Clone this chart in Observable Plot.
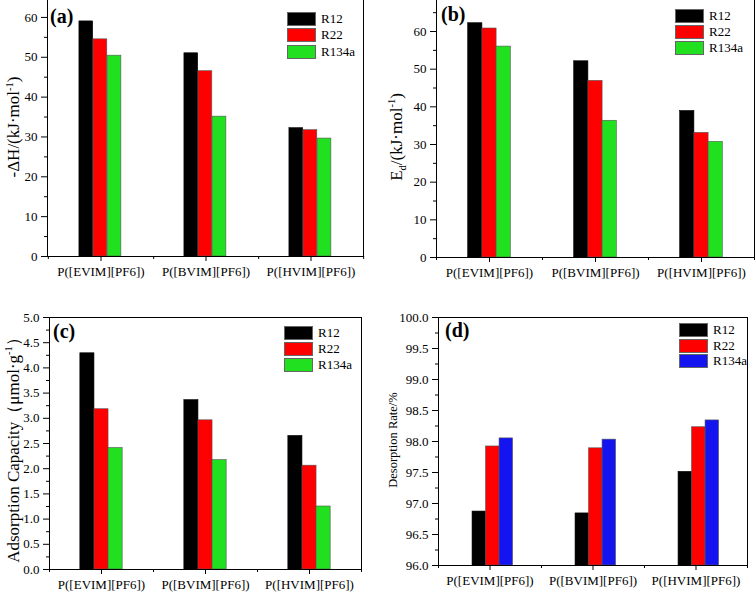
<!DOCTYPE html>
<html>
<head>
<meta charset="utf-8">
<script src="https://cdn.jsdelivr.net/npm/d3@7"></script>
<script src="https://cdn.jsdelivr.net/npm/@observablehq/plot@0.6"></script>
<style>
  html, body { margin: 0; padding: 0; background: #fff; }
  #wrap { position: relative; width: 756px; height: 592px; overflow: hidden; font-family: "Liberation Serif", "DejaVu Serif", serif; color: #000; }
  .pnl { position: absolute; }
  .ylab { position: absolute; white-space: nowrap; transform: translate(-50%, -50%) rotate(-90deg); font-family: "Liberation Serif", serif; }
  .ylab sup, .ylab sub { font-size: 0.62em; }
  .letter { position: absolute; font-weight: bold; font-size: 20px; line-height: 1; font-family: "Liberation Serif", serif; }
  .leg { position: absolute; font-size: 13px; line-height: 1; font-family: "Liberation Serif", serif; }
  .leg .row { position: absolute; left: 0; white-space: nowrap; }
  .leg .sw { position: absolute; left: 0; width: 29px; height: 14px; box-sizing: border-box; border: 0.6px solid #666; }
  .leg .tx { position: absolute; top: 0px; }
</style>
</head>
<body>
<div id="wrap"></div>
<script>
// ---- data ----
const categories = ["P([EVIM][PF6])", "P([BVIM][PF6])", "P([HVIM][PF6])"];
const series = ["R12", "R22", "R134a"];

// (a) -ΔH (kJ/mol)
const enthalpyR12 = [59.0, 51.0, 32.2];
const enthalpyR22 = [54.5, 46.5, 31.7];
const enthalpyR134a = [50.4, 35.1, 29.6];

// (b) Ed (kJ/mol)
const desorbEnergyR12 = [62.2, 52.1, 38.9];
const desorbEnergyR22 = [60.8, 46.9, 33.1];
const desorbEnergyR134a = [56.0, 36.3, 30.7];

// (c) Adsorption capacity (μmol/g)
const capacityR12 = [4.29, 3.36, 2.65];
const capacityR22 = [3.18, 2.96, 2.06];
const capacityR134a = [2.41, 2.17, 1.25];

// (d) Desorption rate (%)
const rateR12 = [96.87, 96.84, 97.51];
const rateR22 = [97.92, 97.89, 98.23];
const rateR134a = [98.05, 98.03, 98.34];

// tick labels
const ticksA = [0, 10, 20, 30, 40, 50, 60];
const minorA = [5, 15, 25, 35, 45, 55];
const ticksB = [0, 10, 20, 30, 40, 50, 60];
const minorB = [5, 15, 25, 35, 45, 55, 65];
const ticksC = [0, 0.5, 1.0, 1.5, 2.0, 2.5, 3.0, 3.5, 4.0, 4.5, 5.0];
const minorC = [0.25, 0.75, 1.25, 1.75, 2.25, 2.75, 3.25, 3.75, 4.25, 4.75];
const ticksD = [96.0, 96.5, 97.0, 97.5, 98.0, 98.5, 99.0, 99.5, 100.0];
const minorD = [96.25, 96.75, 97.25, 97.75, 98.25, 98.75, 99.25, 99.75];

const colorsGreen = ["#000000", "#ff0000", "#20e020"];
const colorsBlue = ["#000000", "#ff0000", "#1414f0"];

const wrap = document.getElementById("wrap");

function makePanel(cfg) {
  const rows = [];
  categories.forEach((c, ci) => {
    series.forEach((s, si) => rows.push({cat: c, series: s, value: cfg.values[si][ci]}));
  });
  const bw = (cfg.width - cfg.ml - cfg.mr) / categories.length;
  const inset = (bw - cfg.barW) / 2;
  const marks = [];
  series.forEach((s, si) => {
    marks.push(Plot.barY(rows.filter(d => d.series === s), {
      x: "cat", y1: cfg.domain[0], y2: "value",
      fill: cfg.colors[si], stroke: si === 0 ? "#000" : "#555", strokeWidth: 0.6,
      insetLeft: inset, insetRight: inset,
      dx: (si - 1) * cfg.barW + cfg.shift
    }));
  });
  marks.push(Plot.axisY(cfg.ticks, {tickSize: 6, tickPadding: 4, fontSize: 13, tickFormat: cfg.fmt, label: null}));
  marks.push(Plot.axisY(cfg.minor, {tickSize: 3, tickFormat: () => "", label: null}));
  marks.push(Plot.axisX({tickSize: 5, tickPadding: 5, fontSize: 13, label: null}));
  marks.push(Plot.axisX(categories, {tickSize: 3, tickFormat: () => "", label: null, dx: bw / 2}));
  marks.push(Plot.axisX(categories.slice(0, 1), {tickSize: 3, tickFormat: () => "", label: null, dx: -bw / 2}));
  marks.push(Plot.frame({stroke: "#000", strokeWidth: 1}));

  const svg = Plot.plot({
    width: cfg.width, height: cfg.height,
    marginLeft: cfg.ml, marginRight: cfg.mr, marginTop: cfg.mt, marginBottom: cfg.mb,
    x: {type: "band", domain: categories, padding: 0, label: null},
    y: {domain: cfg.domain, label: null},
    style: {fontFamily: "Liberation Serif, serif", fontSize: "13px", color: "#000", background: "transparent", overflow: "visible"},
    marks
  });
  const div = document.createElement("div");
  div.className = "pnl";
  div.style.left = cfg.left + "px";
  div.style.top = cfg.top + "px";
  div.appendChild(svg);
  wrap.appendChild(div);

  // y label
  const yl = document.createElement("div");
  yl.className = "ylab";
  yl.style.left = cfg.labX + "px";
  yl.style.top = cfg.labY + "px";
  yl.style.fontSize = cfg.labSize + "px";
  yl.innerHTML = cfg.label;
  wrap.appendChild(yl);

  // panel letter
  const lt = document.createElement("div");
  lt.className = "letter";
  lt.style.left = cfg.letX + "px";
  lt.style.top = cfg.letY + "px";
  lt.textContent = cfg.letter;
  wrap.appendChild(lt);

  // legend
  const lg = document.createElement("div");
  lg.className = "leg";
  lg.style.left = cfg.legX + "px";
  lg.style.top = cfg.legY + "px";
  series.forEach((s, si) => {
    const r = document.createElement("div");
    r.className = "row";
    r.style.top = (si * cfg.legStep) + "px";
    const sw = document.createElement("div");
    sw.className = "sw";
    sw.style.background = cfg.colors[si];
    const tx = document.createElement("div");
    tx.className = "tx";
    tx.style.left = "34px";
    tx.textContent = s;
    r.appendChild(sw);
    r.appendChild(tx);
    lg.appendChild(r);
  });
  wrap.appendChild(lg);
}

makePanel({
  left: 0, top: -3, width: 378, height: 299, ml: 47, mr: 15, mt: 2, mb: 40,
  domain: [0, 64.5], ticks: ticksA, minor: minorA, fmt: d3.format("d"),
  values: [enthalpyR12, enthalpyR22, enthalpyR134a], colors: colorsGreen,
  barW: 14.1, shift: -0.6,
  label: "-ΔH/(kJ·mol<sup>-1</sup>)", labX: 14, labY: 127, labSize: 17,
  letter: "(a)", letX: 50, letY: 6,
  legX: 287, legY: 12, legStep: 16.4
});

makePanel({
  left: 378, top: -3, width: 378, height: 299, ml: 58, mr: 2, mt: 2, mb: 39,
  domain: [0, 68.5], ticks: ticksB, minor: minorB, fmt: d3.format("d"),
  values: [desorbEnergyR12, desorbEnergyR22, desorbEnergyR134a], colors: colorsGreen,
  barW: 14.2, shift: 0,
  label: "E<sub>d</sub>/(kJ·mol<sup>-1</sup>)", labX: 397, labY: 137, labSize: 17,
  letter: "(b)", letX: 441, letY: 4,
  legX: 675, legY: 9, legStep: 16.2
});

makePanel({
  left: 0, top: 296, width: 378, height: 296, ml: 49, mr: 17, mt: 21, mb: 23,
  domain: [0, 5], ticks: ticksC, minor: minorC, fmt: d3.format(".1f"),
  values: [capacityR12, capacityR22, capacityR134a], colors: colorsGreen,
  barW: 14.1, shift: 0,
  label: "Adsorption Capacity（μmol·g<sup>-1</sup>）", labX: 13, labY: 446, labSize: 17,
  letter: "(c)", letX: 53, letY: 321,
  legX: 284, legY: 326, legStep: 16.2
});

makePanel({
  left: 378, top: 296, width: 378, height: 296, ml: 60, mr: 9, mt: 21, mb: 27,
  domain: [96, 100], ticks: ticksD, minor: minorD, fmt: d3.format(".1f"),
  values: [rateR12, rateR22, rateR134a], colors: colorsBlue,
  barW: 13.5, shift: 2.8,
  label: "Desorption Rate/%", labX: 393, labY: 440, labSize: 12.5,
  letter: "(d)", letX: 445, letY: 320,
  legX: 679, legY: 323, legStep: 15.5
});
</script>
</body>
</html>
